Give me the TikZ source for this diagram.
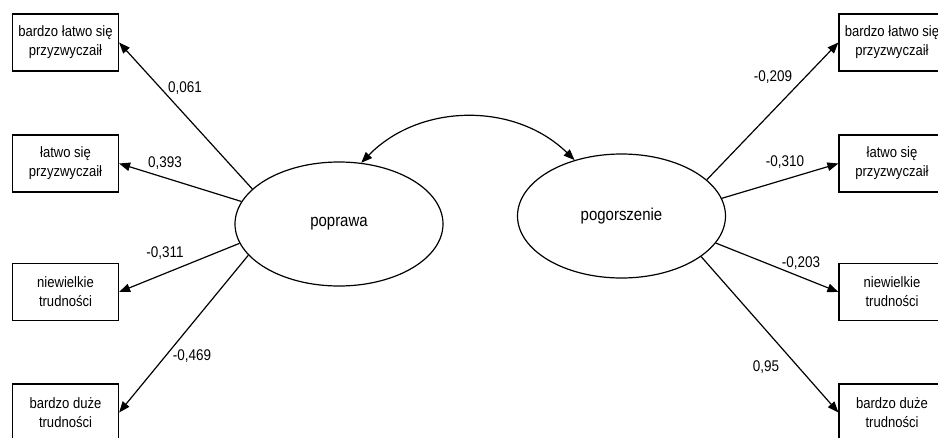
\documentclass[tikz,border=0pt]{standalone}
\usepackage{fontspec}
\setmainfont{Liberation Sans}[FakeStretch=0.87]
\usetikzlibrary{shapes.geometric,arrows.meta}
\tikzset{
  obsbox/.style={draw, line width=1.2pt, minimum width=106pt, minimum height=57pt, inner sep=0pt, align=center, font=\fontsize{15}{19}\selectfont},
  latent/.style={draw, ellipse, line width=1.2pt, minimum width=208pt, minimum height=124pt, inner sep=0pt, font=\fontsize{17.2}{20}\selectfont},
  coef/.style={inner sep=0pt, font=\fontsize{15.5}{19}\selectfont},
  path/.style={line width=1.2pt, -{Triangle[length=11pt,width=8.5pt]}},
}
\begin{document}
\begin{tikzpicture}[x=1pt,y=-1pt]
\useasboundingbox (0,0) rectangle (938,437);
\fill[white] (0,0) rectangle (938,437);
% latent variables
\node[latent] (pop) at (339,224) {poprawa};
\node[latent] (pog) at (621.5,216) {pogorszenie};
% left boxes
\node[obsbox] (l1) at (65.5,42.5) {bardzo łatwo się\\przyzwyczaił};
\node[obsbox] (l2) at (65.5,163.5) {łatwo się\\przyzwyczaił};
\node[obsbox] (l3) at (65.5,292) {niewielkie\\trudności};
\node[obsbox] (l4) at (65.5,412.5) {bardzo duże\\trudności};
% right boxes
\node[obsbox] (r1) at (892,42.5) {bardzo łatwo się\\przyzwyczaił};
\node[obsbox] (r2) at (892,163.5) {łatwo się\\przyzwyczaił};
\node[obsbox] (r3) at (892,292) {niewielkie\\trudności};
\node[obsbox] (r4) at (892,412.5) {bardzo duże\\trudności};
% paths
\draw[path] (pop.158) -- (l1.east);
\draw[path] (pop.167) -- (l2.east);
\draw[path] (pop.191) -- (l3.east);
\draw[path] (pop.199) -- (l4.east);
\draw[path] (pog.23) -- (r1.west);
\draw[path] (pog.10) -- (r2.west);
\draw[path] (pog.-16) -- (r3.west);
\draw[path] (pog.-27) -- (r4.west);
% covariance
\draw[line width=1.2pt, {Triangle[length=11pt,width=8.5pt]}-{Triangle[length=11pt,width=8.5pt]}] (pop.70) to[bend left=45] (pog.130);
% coefficients
\node[coef] (c1) at (185,88) {0,061};
\node[coef] (c2) at (165,163) {0,393};
\node[coef] (c3) at (165,253) {-0,311};
\node[coef] (c4) at (192,356) {-0,469};
\node[coef] (c5) at (773,77) {-0,209};
\node[coef] (c6) at (785,162) {-0,310};
\node[coef] (c7) at (801,263) {-0,203};
\node[coef] (c8) at (766,367) {0,95};
\end{tikzpicture}
\end{document}
